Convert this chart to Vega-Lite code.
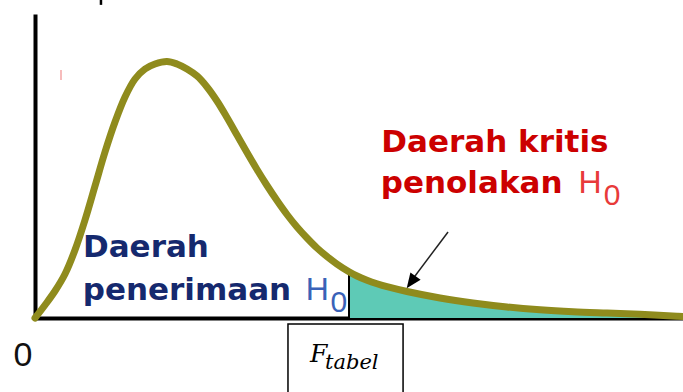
{
  "$schema": "https://vega.github.io/schema/vega-lite/v6.json",
  "autosize": {"type": "none"},
  "width": 648,
  "height": 304,
  "padding": {"left": 35, "top": 14, "right": 0, "bottom": 74},
  "background": "white",
  "config": {"view": {"stroke": null}},
  "data": {"values": [
    {"x": 0, "y": 0}, {"x": 0.0772, "y": 0.0428}, {"x": 0.1543, "y": 0.0888}, {"x": 0.2315, "y": 0.1447},
    {"x": 0.3086, "y": 0.2237}, {"x": 0.3858, "y": 0.3224}, {"x": 0.463, "y": 0.4342}, {"x": 0.5401, "y": 0.5461},
    {"x": 0.6173, "y": 0.6447}, {"x": 0.6944, "y": 0.727}, {"x": 0.7716, "y": 0.7862}, {"x": 0.8488, "y": 0.8191},
    {"x": 0.9259, "y": 0.8355}, {"x": 1.0185, "y": 0.8438}, {"x": 1.0957, "y": 0.8355}, {"x": 1.1728, "y": 0.8191},
    {"x": 1.25, "y": 0.7961}, {"x": 1.3272, "y": 0.7599}, {"x": 1.4043, "y": 0.7138}, {"x": 1.4815, "y": 0.6595},
    {"x": 1.5586, "y": 0.602}, {"x": 1.6358, "y": 0.5444}, {"x": 1.713, "y": 0.4885}, {"x": 1.7901, "y": 0.4359},
    {"x": 1.8673, "y": 0.3865}, {"x": 1.9444, "y": 0.3405}, {"x": 2.0216, "y": 0.2993}, {"x": 2.0988, "y": 0.2632},
    {"x": 2.1759, "y": 0.2303}, {"x": 2.2531, "y": 0.2023}, {"x": 2.3302, "y": 0.1776}, {"x": 2.4228, "y": 0.1523},
    {"x": 2.4846, "y": 0.1382}, {"x": 2.5617, "y": 0.1243}, {"x": 2.6389, "y": 0.1128}, {"x": 2.716, "y": 0.103},
    {"x": 2.8704, "y": 0.0872}, {"x": 3.125, "y": 0.0658}, {"x": 3.3796, "y": 0.0493}, {"x": 3.642, "y": 0.0362},
    {"x": 3.8966, "y": 0.027}, {"x": 4.1512, "y": 0.0207}, {"x": 4.4136, "y": 0.0164}, {"x": 4.6682, "y": 0.0125},
    {"x": 4.9537, "y": 0.0059}, {"x": 5.0, "y": 0.0046}
  ]},
  "layer": [
    {
      "transform": [{"filter": "datum.x >= 2.42"}],
      "mark": {"type": "area", "interpolate": "catmull-rom", "color": "#5ecab6"},
      "encoding": {
        "x": {"field": "x", "type": "quantitative", "scale": {"domain": [0, 5], "nice": false, "zero": false},
              "axis": {"domain": true, "domainColor": "black", "domainWidth": 4, "ticks": false, "labels": false, "grid": false, "title": null}},
        "y": {"field": "y", "type": "quantitative", "scale": {"domain": [0, 1], "nice": false, "zero": false},
              "axis": {"domain": true, "domainColor": "black", "domainWidth": 4, "ticks": false, "labels": false, "grid": false, "title": null}}
      }
    },
    {
      "data": {"values": [{}]},
      "mark": {"type": "rule", "color": "black", "strokeWidth": 2},
      "encoding": {
        "x": {"datum": 2.4228, "type": "quantitative"},
        "y": {"datum": 0, "type": "quantitative"},
        "y2": {"datum": 0.1523}
      }
    },
    {
      "mark": {"type": "line", "interpolate": "catmull-rom", "color": "#8f8b1d", "strokeWidth": 7, "strokeCap": "round"},
      "encoding": {
        "x": {"field": "x", "type": "quantitative"},
        "y": {"field": "y", "type": "quantitative"}
      }
    },
    {
      "data": {"values": [{}]},
      "mark": {"type": "rule", "color": "black", "strokeWidth": 2.5},
      "encoding": {
        "x": {"datum": 0.509, "type": "quantitative"},
        "y": {"datum": 1.046, "type": "quantitative"},
        "y2": {"datum": 1.03}
      }
    },
    {
      "data": {"values": [{}]},
      "mark": {"type": "rule", "color": "#f4a6a6", "strokeWidth": 1.5},
      "encoding": {
        "x": {"datum": 0.2006, "type": "quantitative"},
        "y": {"datum": 0.816, "type": "quantitative"},
        "y2": {"datum": 0.783}
      }
    },
    {
      "data": {"values": [{"t": "Daerah"}]},
      "mark": {"type": "text", "align": "left", "baseline": "alphabetic", "font": "DejaVu Sans", "fontWeight": "bold", "fontSize": 31, "color": "#15296e"},
      "encoding": {"x": {"datum": 0.37, "type": "quantitative"}, "y": {"datum": 0.2016, "type": "quantitative"}, "text": {"field": "t"}}
    },
    {
      "data": {"values": [{"t": "penerimaan"}]},
      "mark": {"type": "text", "align": "left", "baseline": "alphabetic", "font": "DejaVu Sans", "fontWeight": "bold", "fontSize": 31, "color": "#15296e"},
      "encoding": {"x": {"datum": 0.368, "type": "quantitative"}, "y": {"datum": 0.0592, "type": "quantitative"}, "text": {"field": "t"}}
    },
    {
      "data": {"values": [{"t": "H"}]},
      "mark": {"type": "text", "align": "left", "baseline": "alphabetic", "font": "Liberation Sans", "fontSize": 32, "color": "#3a62b8"},
      "encoding": {"x": {"datum": 2.09, "type": "quantitative"}, "y": {"datum": 0.0592, "type": "quantitative"}, "text": {"field": "t"}}
    },
    {
      "data": {"values": [{"t": "0"}]},
      "mark": {"type": "text", "align": "left", "baseline": "alphabetic", "font": "Liberation Sans", "fontSize": 30, "color": "#3a62b8"},
      "encoding": {"x": {"datum": 2.28, "type": "quantitative"}, "y": {"datum": 0.0197, "type": "quantitative"}, "text": {"field": "t"}}
    },
    {
      "data": {"values": [{"t": "Daerah kritis"}]},
      "mark": {"type": "text", "align": "left", "baseline": "alphabetic", "font": "DejaVu Sans", "fontWeight": "bold", "fontSize": 31, "color": "#cc0000"},
      "encoding": {"x": {"datum": 2.672, "type": "quantitative"}, "y": {"datum": 0.547, "type": "quantitative"}, "text": {"field": "t"}}
    },
    {
      "data": {"values": [{"t": "penolakan"}]},
      "mark": {"type": "text", "align": "left", "baseline": "alphabetic", "font": "DejaVu Sans", "fontWeight": "bold", "fontSize": 31, "color": "#cc0000"},
      "encoding": {"x": {"datum": 2.668, "type": "quantitative"}, "y": {"datum": 0.41, "type": "quantitative"}, "text": {"field": "t"}}
    },
    {
      "data": {"values": [{"t": "H"}]},
      "mark": {"type": "text", "align": "left", "baseline": "alphabetic", "font": "Liberation Sans", "fontSize": 32, "color": "#e83a3a"},
      "encoding": {"x": {"datum": 4.194, "type": "quantitative"}, "y": {"datum": 0.41, "type": "quantitative"}, "text": {"field": "t"}}
    },
    {
      "data": {"values": [{"t": "0"}]},
      "mark": {"type": "text", "align": "left", "baseline": "alphabetic", "font": "Liberation Sans", "fontSize": 30, "color": "#e83a3a"},
      "encoding": {"x": {"datum": 4.389, "type": "quantitative"}, "y": {"datum": 0.372, "type": "quantitative"}, "text": {"field": "t"}}
    },
    {
      "data": {"values": [{}]},
      "mark": {"type": "rule", "color": "#222222", "strokeWidth": 1.5},
      "encoding": {
        "x": {"datum": 3.187, "type": "quantitative"},
        "y": {"datum": 0.283, "type": "quantitative"},
        "x2": {"datum": 2.909},
        "y2": {"datum": 0.125}
      }
    },
    {
      "data": {"values": [{}]},
      "mark": {"type": "point", "shape": "M0,0 L0.42,1 L-0.42,1 Z", "filled": true, "color": "black", "opacity": 1, "size": 900, "angle": 216},
      "encoding": {"x": {"datum": 2.868, "type": "quantitative"}, "y": {"datum": 0.0977, "type": "quantitative"}}
    },
    {
      "data": {"values": [{}]},
      "mark": {"type": "rect", "fill": "white", "stroke": "black", "strokeWidth": 1.5},
      "encoding": {
        "x": {"datum": 1.952, "type": "quantitative"},
        "x2": {"datum": 2.84},
        "y": {"datum": -0.0197, "type": "quantitative"},
        "y2": {"datum": -0.26}
      }
    },
    {
      "data": {"values": [{"t": "F"}]},
      "mark": {"type": "text", "align": "left", "baseline": "alphabetic", "font": "DejaVu Serif", "fontStyle": "italic", "fontSize": 25, "color": "black"},
      "encoding": {"x": {"datum": 2.122, "type": "quantitative"}, "y": {"datum": -0.1438, "type": "quantitative"}, "text": {"field": "t"}}
    },
    {
      "data": {"values": [{"t": "tabel"}]},
      "mark": {"type": "text", "align": "left", "baseline": "alphabetic", "font": "DejaVu Serif", "fontStyle": "italic", "fontSize": 21, "color": "black"},
      "encoding": {"x": {"datum": 2.238, "type": "quantitative"}, "y": {"datum": -0.1678, "type": "quantitative"}, "text": {"field": "t"}}
    },
    {
      "data": {"values": [{"t": "0"}]},
      "mark": {"type": "text", "align": "center", "baseline": "alphabetic", "font": "Liberation Sans", "fontSize": 34, "color": "#111111"},
      "encoding": {"x": {"datum": -0.0926, "type": "quantitative"}, "y": {"datum": -0.158, "type": "quantitative"}, "text": {"field": "t"}}
    }
  ]
}
